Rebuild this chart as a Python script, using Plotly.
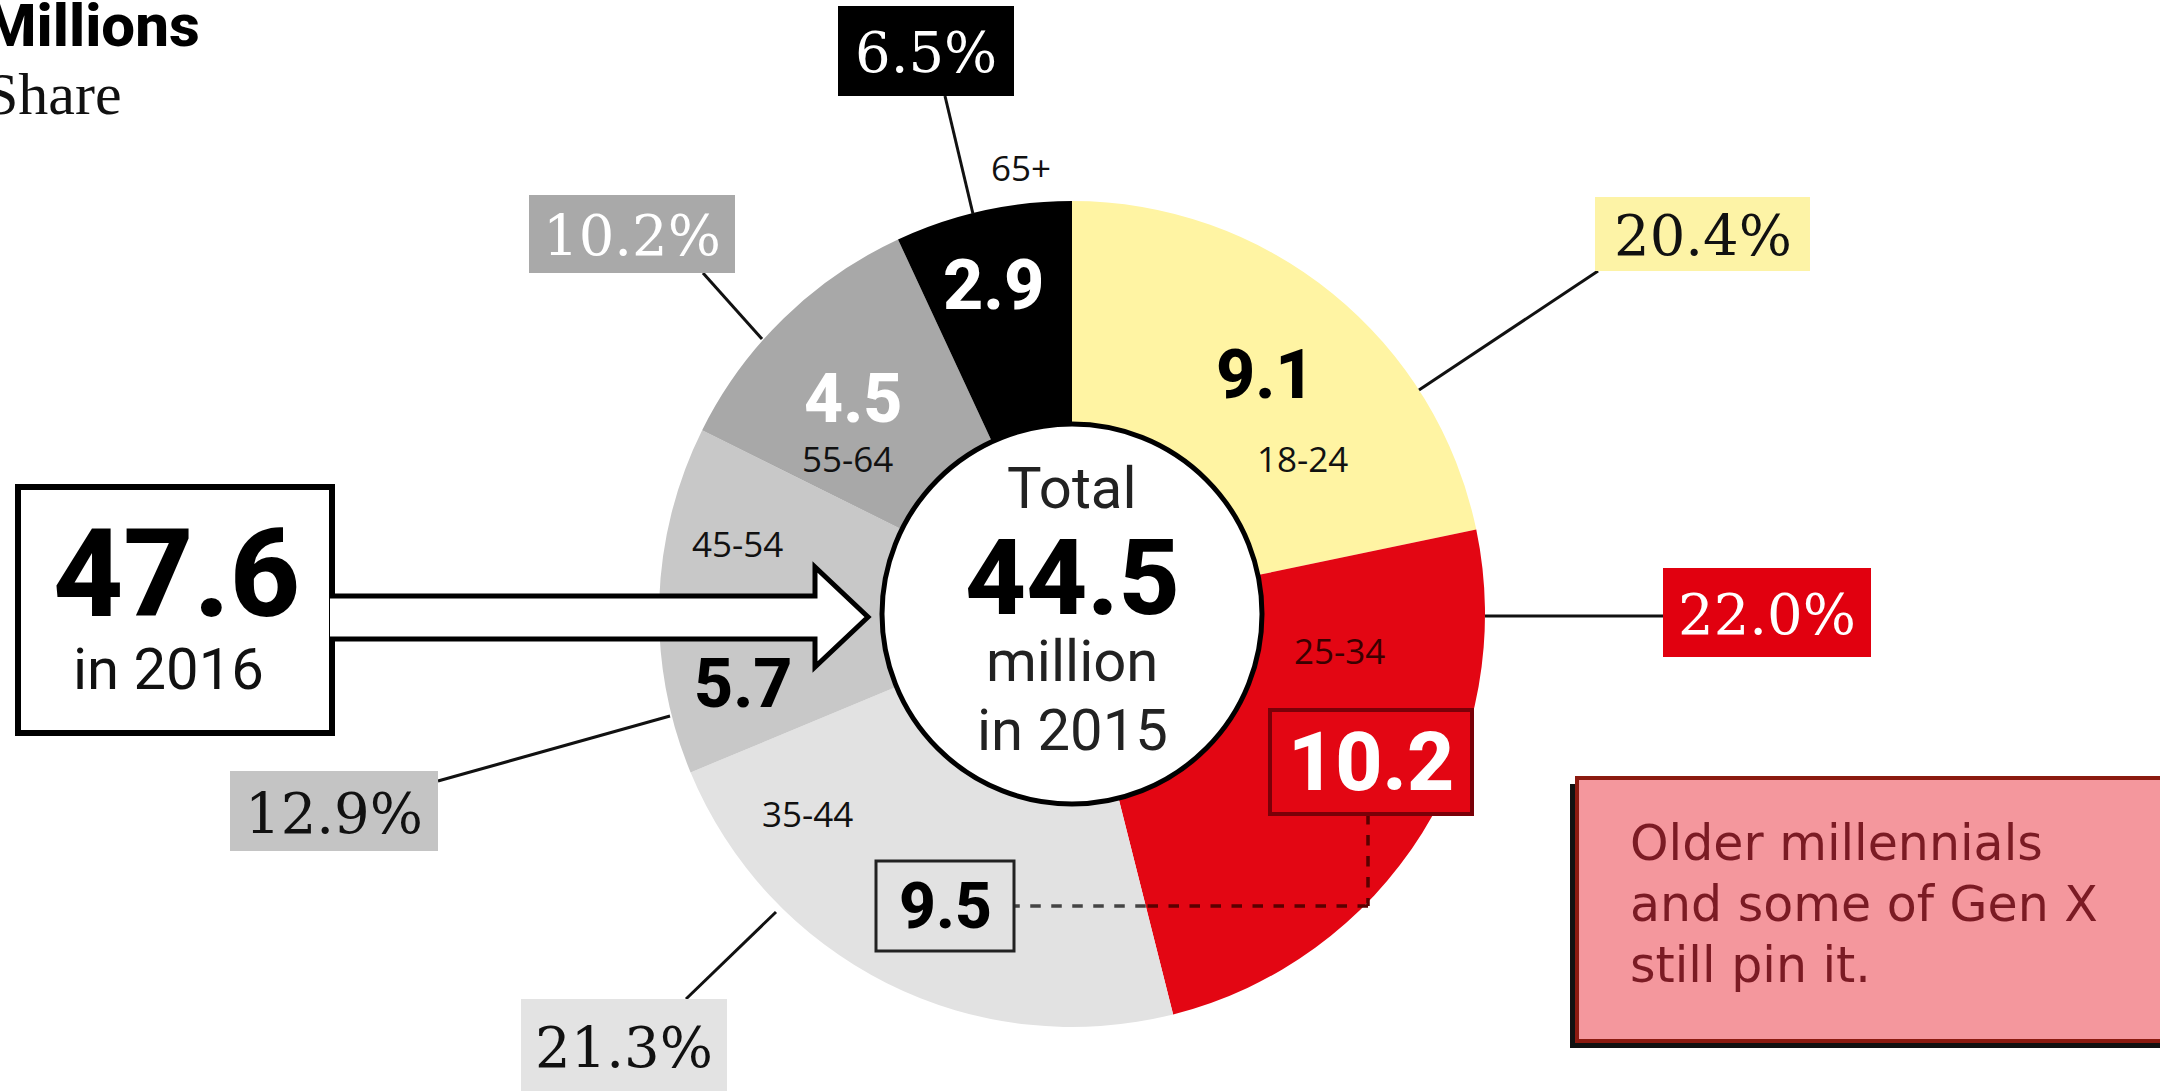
import math
import plotly.graph_objects as go

# ---------------- data ----------------
age_groups = ["18-24", "25-34", "35-44", "45-54", "55-64", "65+"]
millions = [9.1, 10.2, 9.5, 5.7, 4.5, 2.9]
shares = [20.4, 22.0, 21.3, 12.9, 10.2, 6.5]
total_2015 = 44.5
total_2016 = 47.6
note_lines = ["Older millennials", "and some of Gen X", "still pin it."]

# ---------------- styling ----------------
W, H = 2160, 1091
slice_colors = ["#fff4a3", "#e30613", "#e2e2e2", "#c8c8c8", "#a8a8a8", "#000000"]
box_colors = ["#fdf3a6", "#e1000f", "#e3e3e3", "#c4c4c4", "#a9a9a9", "#000000"]
pct_text_colors = ["#111111", "#ffffff", "#111111", "#111111", "#ffffff", "#ffffff"]
val_text_colors = ["#000000", "#ffffff", "#000000", "#000000", "#ffffff", "#ffffff"]

CX, CY, R = 1072, 614, 413
HOLE_R = 190

SANS = "Roboto"
SERIF = "DejaVu Serif"
SMALL = "Open Sans"


def px(x):
    return x / W


def py(y):
    return 1 - y / H


fig = go.Figure()
fig.add_trace(go.Pie(
    labels=age_groups,
    values=millions,
    marker=dict(colors=slice_colors, line=dict(width=0)),
    sort=False,
    direction="clockwise",
    rotation=0,
    hole=HOLE_R / R,
    textinfo="none",
    hoverinfo="label+value",
    showlegend=False,
    domain=dict(x=[px(CX - R), px(CX + R)], y=[py(CY + R), py(CY - R)]),
))

shapes = []
annotations = []


def rect(x0, y0, x1, y1, fill, line_color=None, lw=0):
    shapes.append(dict(type="rect", xref="paper", yref="paper",
                       x0=px(x0), x1=px(x1), y0=py(y1), y1=py(y0),
                       fillcolor=fill, layer="above",
                       line=dict(color=line_color or fill, width=lw)))


def seg(x0, y0, x1, y1, color="#111111", lw=3, dash="solid"):
    shapes.append(dict(type="line", xref="paper", yref="paper",
                       x0=px(x0), x1=px(x1), y0=py(y0), y1=py(y1), layer="above",
                       line=dict(color=color, width=lw, dash=dash)))


def text(x, y, s, size, color="#000", family=SANS, weight=400, xanchor="center"):
    annotations.append(dict(xref="paper", yref="paper", x=px(x), y=py(y), text=s,
                            showarrow=False, xanchor=xanchor, yanchor="middle",
                            font=dict(family=family, size=size, color=color, weight=weight)))


# centre circle
shapes.append(dict(type="circle", xref="paper", yref="paper",
                   x0=px(CX - HOLE_R), x1=px(CX + HOLE_R),
                   y0=py(CY + HOLE_R), y1=py(CY - HOLE_R),
                   fillcolor="white", line=dict(color="black", width=5), layer="above"))

# 2016 box and arrow
rect(18, 487, 332, 733, "white", "black", 6)
arrow_path = "M {a},{b} L {c},{b} L {c},{d} L {e},{f} L {c},{g} L {c},{h} L {a},{h}".format(
    a=px(330), b=py(596), c=px(815), d=py(567), e=px(868), f=py(617), g=py(667), h=py(639))
shapes.append(dict(type="path", xref="paper", yref="paper", path=arrow_path,
                   fillcolor="white", line=dict(color="black", width=5), layer="above"))

# percentage boxes with leader lines (pixel layout)
pct_layout = [
    # box x0,y0,x1,y1 ; leader from -> to
    ((1595, 197, 1810, 271), (1598, 271, 1419, 390)),   # 18-24
    ((1663, 568, 1871, 657), (1663, 616, 1485, 616)),   # 25-34
    ((521, 999, 727, 1091), (686, 999, 776, 912)),      # 35-44
    ((230, 771, 438, 851), (438, 781, 670, 716)),       # 45-54
    ((529, 195, 735, 273), (703, 273, 762, 339)),       # 55-64
    ((838, 6, 1014, 96), (945, 96, 973, 214)),          # 65+
]
for i, ((x0, y0, x1, y1), (lx0, ly0, lx1, ly1)) in enumerate(pct_layout):
    seg(lx0, ly0, lx1, ly1)
    rect(x0, y0, x1, y1, box_colors[i])
    text((x0 + x1) / 2, (y0 + y1) / 2 + 2, f"{shares[i]:.1f}%", 56, pct_text_colors[i], SERIF)

# value labels inside the slices
val_pos = [(1265, 375), (1371, 762), (945, 906), (743, 684), (853, 399), (993, 285)]
val_size = [68, 82, 64, 68, 68, 70]
age_pos = [(1302, 459), (1339, 650), (807, 813), (737, 544), (847, 458), (1021, 167)]

# connector between 9.5 and 10.2 (dashed)
bx0, by0, bx1, by1 = 1270, 710, 1472, 814
vx = 1368
hy = 906
# boundary angle between 25-34 and 35-44 slices
ang = 2 * math.pi * sum(millions[:2]) / sum(millions)
t = (hy - CY) / (-math.cos(ang))
xb = CX + math.sin(ang) * t
seg(vx, by1, vx, hy, "#5a0000", 3.5, "dash")
seg(vx, hy, xb, hy, "#5a0000", 3.5, "dash")
seg(xb, hy, 1014, hy, "#444444", 3.5, "dash")

# 35-44 value box
rect(876, 861, 1014, 951, slice_colors[2], "#222222", 3)
# 25-34 value box
rect(bx0, by0, bx1, by1, "#e30613", "#7a0008", 4)

for i in range(len(millions)):
    x, y = val_pos[i]
    text(x, y, f"{millions[i]:.1f}", val_size[i], val_text_colors[i], SANS, 800)
    ax, ay = age_pos[i]
    text(ax, ay, age_groups[i], 35, "#111111" if i != 1 else "#3a0000", SMALL)

# centre texts
text(CX, 488, "Total", 58, "#222222")
text(CX, 578, f"{total_2015:.1f}", 106, "#000000", SANS, 800)
text(CX, 661, "million", 58, "#222222")
text(CX, 730, "in 2015", 58, "#222222")

# 2016 texts
text(176, 574, f"{total_2016:.1f}", 122, "#000000", SANS, 800)
text(168, 669, "in 2016", 58, "#111111")

# header (cut off at the left)
text(202, 25, "Millions", 60, "#000000", SANS, 800, xanchor="right")
text(124, 94, "Share", 60, "#111111", "Liberation Serif", xanchor="right")

# note box
rect(1570, 784, 2170, 1048, "#111111")
rect(1577, 778, 2175, 1041, "#f4979d", "#8b1a10", 4)
for k, line in enumerate(note_lines):
    text(1628, 843 + k * 61, line, 49, "#7b1b24", "DejaVu Sans", xanchor="left")

fig.update_layout(
    width=W, height=H,
    margin=dict(l=0, r=0, t=0, b=0),
    paper_bgcolor="white", plot_bgcolor="white",
    shapes=shapes, annotations=annotations,
    showlegend=False,
)
fig.write_html("out.html")
